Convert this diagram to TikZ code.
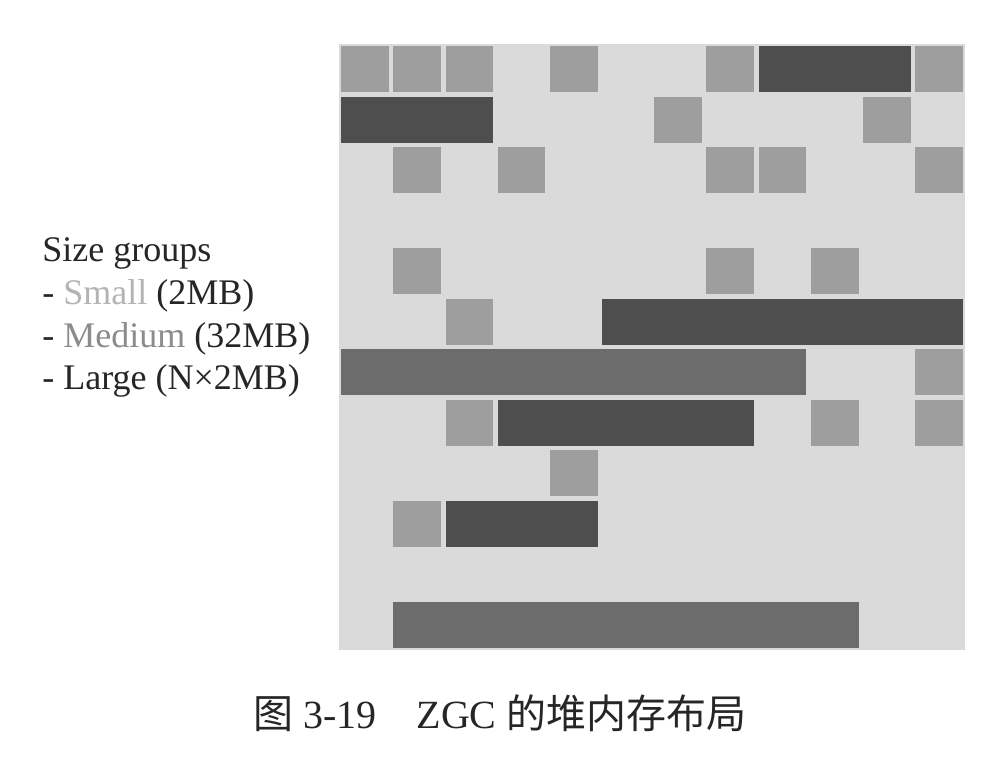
\documentclass[tikz,border=0pt]{standalone}
\usepackage{fontspec}
\setmainfont{Liberation Serif}
\newfontfamily\cjk{Noto Sans CJK SC}
\definecolor{gridbg}{HTML}{DADADA}
\definecolor{smallc}{HTML}{9E9E9E}
\definecolor{darkc}{HTML}{4E4E4E}
\definecolor{medc}{HTML}{6C6C6C}
\definecolor{txt}{HTML}{262626}
\definecolor{smalltxt}{HTML}{B4B4B4}
\definecolor{medtxt}{HTML}{8C8C8C}
\tikzset{
  smallblk/.style={fill=smallc},
  darkblk/.style={fill=darkc},
  medblk/.style={fill=medc},
  legend/.style={anchor=base west, inner sep=0pt, text=txt, font=\fontsize{18}{21}\selectfont},
}
\newcommand\blk[4]{\fill[#1] ({339+#2*52.17+2.2},{44+#3*50.5+2.2}) rectangle ({339+(#2+#4)*52.17-2.2},{44+(#3+1)*50.5-2.2});}
\begin{document}
\begin{tikzpicture}[x=0.5pt,y=-0.5pt]
\useasboundingbox (0,0) rectangle (990,764);
\fill[white] (0,0) rectangle (990,764);
% grid background
\fill[gridbg] (339,44) rectangle (965,650);
% row 0
\blk{smallblk}{0}{0}{1}
\blk{smallblk}{1}{0}{1}
\blk{smallblk}{2}{0}{1}
\blk{smallblk}{4}{0}{1}
\blk{smallblk}{7}{0}{1}
\blk{darkblk}{8}{0}{3}
\blk{smallblk}{11}{0}{1}
% row 1
\blk{darkblk}{0}{1}{3}
\blk{smallblk}{6}{1}{1}
\blk{smallblk}{10}{1}{1}
% row 2
\blk{smallblk}{1}{2}{1}
\blk{smallblk}{3}{2}{1}
\blk{smallblk}{7}{2}{1}
\blk{smallblk}{8}{2}{1}
\blk{smallblk}{11}{2}{1}
% row 4
\blk{smallblk}{1}{4}{1}
\blk{smallblk}{7}{4}{1}
\blk{smallblk}{9}{4}{1}
% row 5
\blk{smallblk}{2}{5}{1}
\blk{darkblk}{5}{5}{7}
% row 6
\blk{medblk}{0}{6}{9}
\blk{smallblk}{11}{6}{1}
% row 7
\blk{smallblk}{2}{7}{1}
\blk{darkblk}{3}{7}{5}
\blk{smallblk}{9}{7}{1}
\blk{smallblk}{11}{7}{1}
% row 8
\blk{smallblk}{4}{8}{1}
% row 9
\blk{smallblk}{1}{9}{1}
\blk{darkblk}{2}{9}{3}
% row 11
\blk{medblk}{1}{11}{9}
% legend
\node[legend] (lg0) at (42,262) {Size groups};
\node[legend] (lg1) at (42,305) {- \textcolor{smalltxt}{Small} (2MB)};
\node[legend] (lg2) at (42,348) {- \textcolor{medtxt}{Medium} (32MB)};
\node[legend] (lg3) at (42,390) {- Large (N×2MB)};
% caption
\node[anchor=base, inner sep=0pt, text=txt, font=\fontsize{20}{24}\selectfont] (cap) at (500,728)
  {{\cjk 图} 3-19\quad ZGC {\cjk 的堆内存布局}};
\end{tikzpicture}
\end{document}
